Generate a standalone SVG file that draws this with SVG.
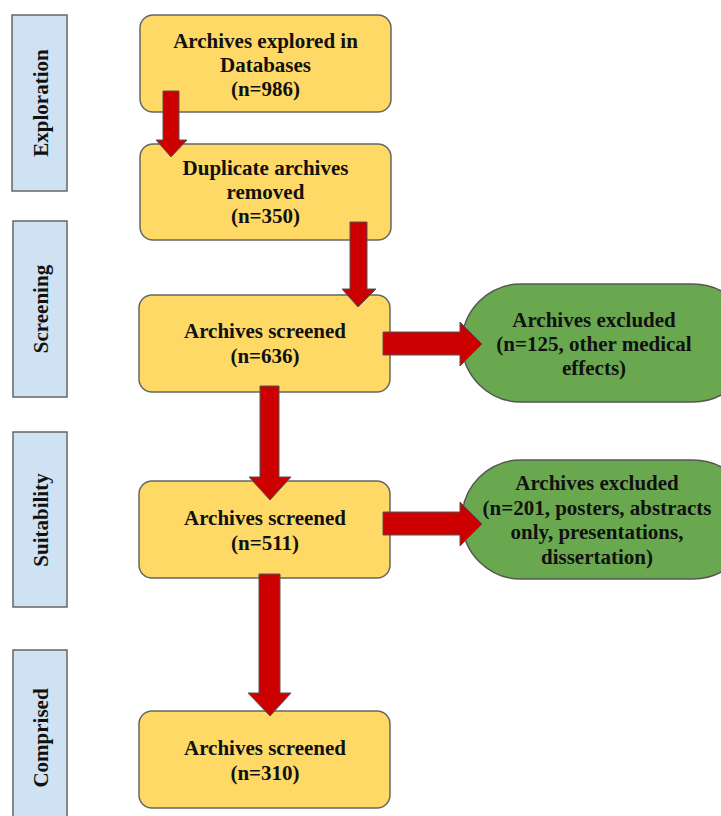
<svg xmlns="http://www.w3.org/2000/svg" width="721" height="816" viewBox="0 0 721 816">
<style>
.bg{fill:#ffffff}
.stage rect{fill:#cfe2f3;stroke:#666666;stroke-width:1.5}
.box rect{fill:#ffd966;stroke:#666666;stroke-width:1.5}
.ex rect{fill:#6aa84f;stroke:#555555;stroke-width:1.5}
text{font-family:"Liberation Serif","Times New Roman",serif;font-weight:bold;font-size:21px;fill:#111111;text-anchor:middle}
.arrow{fill:#cc0000;stroke:#555555;stroke-width:1}
</style>
<rect class="bg" x="0" y="0" width="721" height="816"/>
<g id="stage-exploration" class="stage"><rect x="12" y="15" width="55" height="176"/><text transform="translate(48,103) rotate(-90)">Exploration</text></g>
<g id="stage-screening" class="stage"><rect x="13" y="221" width="54" height="176"/><text transform="translate(48,309) rotate(-90)">Screening</text></g>
<g id="stage-suitability" class="stage"><rect x="13" y="432" width="54" height="175"/><text transform="translate(48,520) rotate(-90)">Suitability</text></g>
<g id="stage-comprised" class="stage"><rect x="13" y="650" width="54" height="176"/><text transform="translate(48,738) rotate(-90)">Comprised</text></g>

<g id="box-explored" class="box"><rect x="140" y="15" width="251" height="97" rx="13"/><text x="265.5" y="48">Archives explored in</text><text x="265.5" y="72">Databases</text><text x="265.5" y="96">(n=986)</text></g>
<g id="box-duplicates" class="box"><rect x="140" y="144" width="251" height="96" rx="13"/><text x="265.5" y="175">Duplicate archives</text><text x="265.5" y="199">removed</text><text x="265.5" y="223">(n=350)</text></g>
<g id="box-screened-636" class="box"><rect x="139" y="295" width="251" height="97" rx="13"/><text x="265" y="338">Archives screened</text><text x="265" y="363">(n=636)</text></g>
<g id="box-screened-511" class="box"><rect x="139" y="481" width="251" height="97" rx="13"/><text x="265" y="525">Archives screened</text><text x="265" y="550">(n=511)</text></g>
<g id="box-screened-310" class="box"><rect x="139" y="711" width="251" height="97" rx="13"/><text x="265" y="755">Archives screened</text><text x="265" y="780">(n=310)</text></g>

<g id="excluded-125" class="ex"><rect x="462" y="284" width="290" height="118" rx="59"/><text x="594" y="327">Archives excluded</text><text x="594" y="351">(n=125, other medical</text><text x="594" y="375">effects)</text></g>
<g id="excluded-201" class="ex"><rect x="462" y="460" width="290" height="119" rx="59"/><text x="597" y="490">Archives excluded</text><text x="597" y="515">(n=201, posters, abstracts</text><text x="597" y="539">only, presentations,</text><text x="597" y="564">dissertation)</text></g>

<g id="connectors">
<polygon class="arrow" points="163,91 179,91 179,140 187,140 171,157 156,140 163,140"/>
<polygon class="arrow" points="350,222 367,222 367,289 376,289 358,307 342,289 350,289"/>
<polygon class="arrow" points="260,386 279,386 279,477 291,477 270,500 249,477 260,477"/>
<polygon class="arrow" points="259,574 280,574 280,693 291,693 270,716 248,693 259,693"/>
<polygon class="arrow" points="383,332 460,332 460,322 482,344 460,366 460,355 383,355"/>
<polygon class="arrow" points="383,512 460,512 460,502 482,524 460,546 460,535 383,535"/>
</g>
</svg>
